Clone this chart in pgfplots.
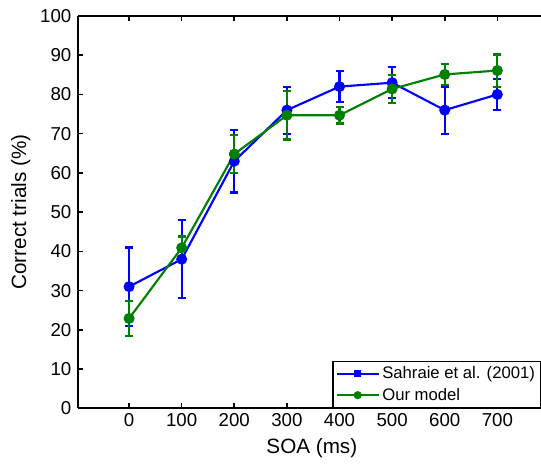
\documentclass[border=0pt]{standalone}
\usepackage{fontspec}
\setmainfont{Liberation Sans}
\usepackage{pgfplots}
\pgfplotsset{compat=1.18}

\definecolor{mblue}{RGB}{0,0,255}
\definecolor{mgreen}{RGB}{0,128,0}

\begin{document}
\begin{tikzpicture}
\begin{axis}[
    scale only axis,
    width=347pt, height=294pt,
    xmin=-97, xmax=783,
    ymin=0, ymax=100,
    axis x line=box, axis y line=left,
    axis line style={-, line width=1.4pt},
    xtick={0,100,...,700},
    ytick={0,10,...,100},
    tick align=inside,
    major tick length=4pt,
    tick style={line width=1.2pt, black},
    /pgf/number format/assume math mode=true,
    tick label style={font=\fontsize{14}{16}\selectfont},
    yticklabel style={xshift=-1.5pt},
    label style={font=\fontsize{15.5}{17}\selectfont},
    xlabel={SOA (ms)},
    ylabel={Correct trials (\%)},
    xlabel style={at={(axis description cs:0.505,0)}, anchor=center, yshift=-30pt},
    ylabel style={at={(axis description cs:0,0.5)}, anchor=center, yshift=43pt},
    legend style={at={(rel axis cs:1,0)}, anchor=south east,
        draw=black, line width=1.1pt,
        font=\fontsize{12.5}{14}\selectfont,
        inner sep=2pt, row sep=1.5pt,
        cells={anchor=west}},
    legend cell align=left,
    clip=false,
]
\addplot+[mblue, line width=1.6pt, mark=*, mark size=3.3pt,
    mark options={fill=mblue, draw=mblue},
    error bars/.cd, y dir=both, y explicit,
    error bar style={line width=1.6pt, mblue},
    error mark options={rotate=90, mark size=3pt, line width=1.6pt, mblue},
    /pgfplots/legend image code/.code={
        \draw[line width=1.6pt] (0cm,0cm) -- (1.1cm,0cm);
        \fill (0.55cm,0cm) +(-2pt,-2pt) rectangle +(2pt,2pt);}]
coordinates {
    (0,31) +- (0,10)
    (100,38) +- (0,10)
    (200,63) +- (0,8)
    (300,76) +- (0,6)
    (400,82) +- (0,4)
    (500,83) +- (0,4)
    (600,76) +- (0,6)
    (700,80) +- (0,4)
};
\addlegendentry{Sahraie et al. (2001)}
\addplot+[mgreen, line width=1.6pt, mark=*, mark size=3.3pt,
    mark options={fill=mgreen, draw=mgreen},
    error bars/.cd, y dir=both, y explicit,
    error bar style={line width=1.6pt, mgreen},
    error mark options={rotate=90, mark size=3pt, line width=1.6pt, mgreen},
    /pgfplots/legend image code/.code={
        \draw[line width=1.6pt] (0cm,0cm) -- (1.1cm,0cm);
        \fill (0.55cm,0cm) circle (2.2pt);}]
coordinates {
    (0,22.9) +- (0,4.5)
    (100,40.9) +- (0,2.9)
    (200,64.8) +- (0,4.8)
    (300,74.7) +- (0,6.2)
    (400,74.7) +- (0,2.1)
    (500,81.4) +- (0,3.5)
    (600,85.1) +- (0,2.7)
    (700,86.1) +- (0,4.1)
};
\addlegendentry{Our model}
\end{axis}
\pgfresetboundingbox
\path[use as bounding box]
    ([xshift=-58.5pt,yshift=-42pt]current axis.south west)
    rectangle ([yshift=12pt]current axis.north east);
\end{tikzpicture}
\end{document}
